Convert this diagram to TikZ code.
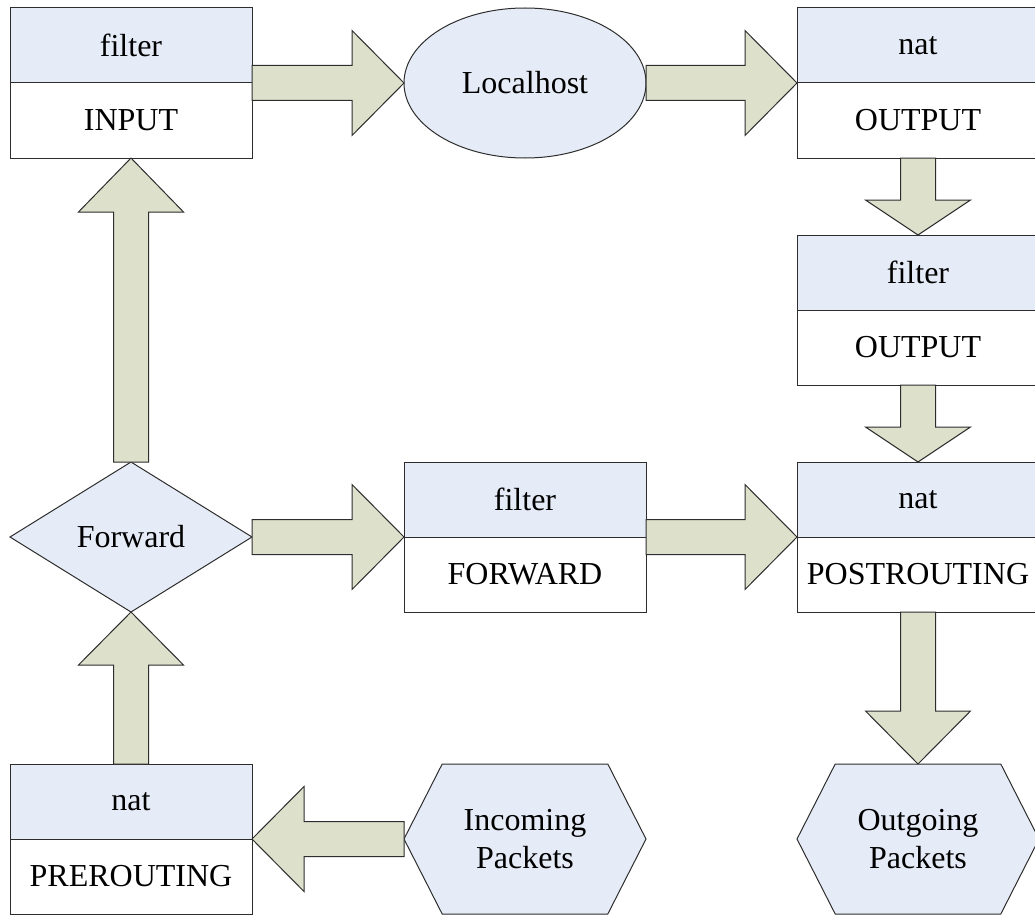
\documentclass[tikz,border=0pt]{standalone}
\usepackage{fontspec}
\setmainfont{Liberation Serif}
\usetikzlibrary{shapes.geometric,shapes.symbols,calc}

\definecolor{hdrblue}{RGB}{230,236,247}
\definecolor{arrowfill}{RGB}{221,224,203}
\definecolor{edgegray}{RGB}{45,45,45}

\tikzset{
  base/.style={draw=edgegray, line width=1pt, inner sep=0pt, outer sep=0pt,
    font=\fontsize{32}{38}\selectfont, align=center},
  tblname/.style={base, rectangle, fill=hdrblue,
    minimum width=242pt, minimum height=75pt, anchor=north west},
  tblchain/.style={base, rectangle, fill=white,
    minimum width=242pt, minimum height=75pt, anchor=north west},
  hostshape/.style={base, ellipse, fill=hdrblue,
    minimum width=242pt, minimum height=150pt},
  decision/.style={base, diamond, fill=hdrblue,
    minimum width=242pt, minimum height=150pt},
  packets/.style={base, signal, signal to=east and west,
    signal pointer angle=126, fill=hdrblue,
    minimum width=242pt, minimum height=150pt},
  flowarrow/.style={draw=edgegray, line width=1pt, fill=arrowfill,
    line join=miter}
}

% block arrow body: tail point (tailpt), tip #1, head length #2
\newcommand\arrowbody[2]{%
  \path ($(#1)!#2!(tailpt)$) coordinate (headbase);
  \draw[flowarrow]
    ($(tailpt)!17.5pt!90:(#1)$) -- ($(headbase)!17.5pt!90:(#1)$)
    -- ($(headbase)!52.5pt!90:(#1)$) -- (#1)
    -- ($(headbase)!52.5pt!-90:(#1)$) -- ($(headbase)!17.5pt!-90:(#1)$)
    -- ($(tailpt)!17.5pt!-90:(#1)$) -- cycle;
}
% horizontal block arrow from #1 to #2, head length #3
\newcommand\harrow[3]{\path (#1 |- #2) coordinate (tailpt);\arrowbody{#2}{#3}}
% vertical block arrow from #1 to #2, head length #3
\newcommand\varrow[3]{\path (#2 |- #1) coordinate (tailpt);\arrowbody{#2}{#3}}

\begin{document}
\begin{tikzpicture}[x=1pt, y=-1pt]
  \useasboundingbox (0,0) rectangle (1035,915);

  % filter / INPUT
  \node[tblname] (inTop) at (10,8) {filter};
  \node[tblchain] (inBot) at (inTop.south west) {INPUT};

  % local process
  \node[hostshape] (lh) at (525,83) {Localhost};

  % nat / OUTPUT
  \node[tblname] (natoTop) at (797,8) {nat};
  \node[tblchain] (natoBot) at (natoTop.south west) {OUTPUT};

  % filter / OUTPUT
  \node[tblname] (filoTop) at (797,235) {filter};
  \node[tblchain] (filoBot) at (filoTop.south west) {OUTPUT};

  % routing decision
  \node[decision] (fwd) at (131,537) {Forward};

  % filter / FORWARD
  \node[tblname] (fwdTop) at (404,462) {filter};
  \node[tblchain] (fwdBot) at (fwdTop.south west) {FORWARD};

  % nat / POSTROUTING
  \node[tblname] (postTop) at (797,462) {nat};
  \node[tblchain] (postBot) at (postTop.south west) {POSTROUTING};

  % nat / PREROUTING
  \node[tblname] (preTop) at (10,764) {nat};
  \node[tblchain] (preBot) at (preTop.south west) {PREROUTING};

  % packet sources and sinks
  \node[packets] (inc) at (525,839) {Incoming\\Packets};
  \node[packets] (out) at (918,839) {Outgoing\\Packets};

  % flow
  \harrow{inc.west}{preTop.south east}{52pt}
  \varrow{preTop.north}{fwd.south}{53pt}
  \varrow{fwd.north}{inBot.south}{54pt}
  \harrow{inTop.south east}{lh.west}{52pt}
  \harrow{lh.east}{natoTop.south west}{52pt}
  \varrow{natoBot.south}{filoTop.north}{35pt}
  \varrow{filoBot.south}{postTop.north}{35pt}
  \harrow{fwd.east}{fwdTop.south west}{52pt}
  \harrow{fwdTop.south east}{postTop.south west}{52pt}
  \varrow{postBot.south}{out.north}{53pt}
\end{tikzpicture}
\end{document}
